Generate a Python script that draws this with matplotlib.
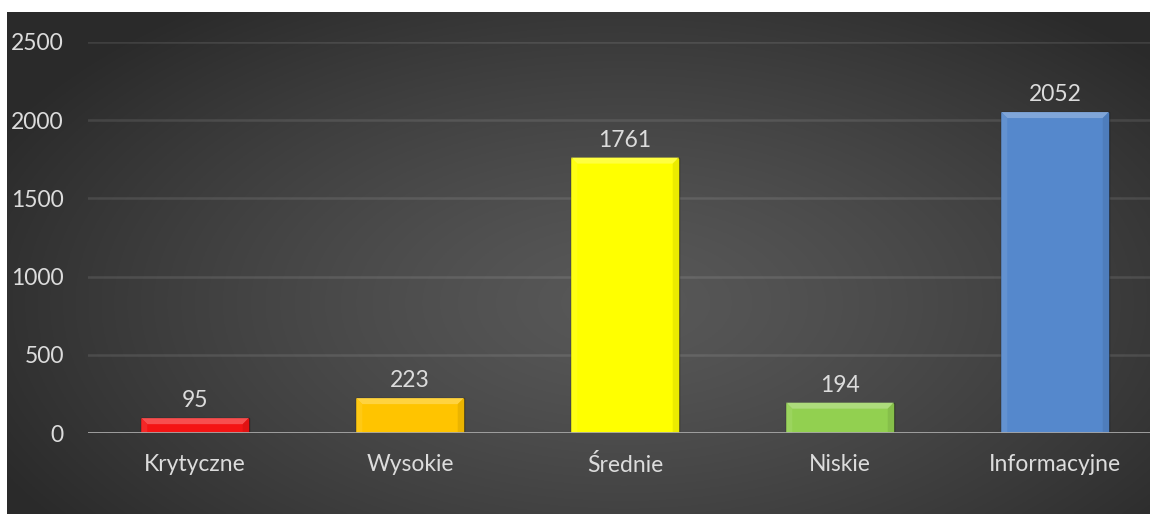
import numpy as np
import matplotlib.pyplot as plt
from matplotlib.colors import to_rgb
from matplotlib.patches import Polygon

categories = ['Krytyczne', 'Wysokie', 'Średnie', 'Niskie', 'Informacyjne']
counts = [95, 223, 1761, 194, 2052]
bar_colors = ['#f41414', '#ffc400', '#ffff00', '#92d050', '#5588cc']

W, H = 1150, 514
fig = plt.figure(figsize=(W / 100, H / 100), dpi=100, facecolor='white')

# dark panel with a soft radial glow in the middle
bg = fig.add_axes([7 / W, 0, 1 - 7 / W, (H - 12) / H])
bg.set_axis_off()
gx, gy = np.meshgrid(np.linspace(0, 1, 600), np.linspace(0, 1, 300))
r = np.sqrt(((gx - 0.54) / 0.62) ** 2 + ((gy - 0.42) / 0.75) ** 2)
shade = 0.345 - 0.18 * np.clip(r, 0, 1) ** 1.3
bg.imshow(np.dstack([shade] * 3), aspect='auto', extent=[0, 1, 0, 1], origin='lower')

ax = fig.add_axes([87.5 / W, 81 / H, 1075 / W, 391 / H])
ax.patch.set_alpha(0)
for s in ax.spines.values():
    s.set_visible(False)

x = np.arange(len(categories))
bars = ax.bar(x, counts, width=0.5, color=bar_colors, edgecolor='#00000066',
              linewidth=1.0, zorder=3)
ax.set_xlim(-0.5, len(categories) - 0.5)
ax.set_ylim(0, 2500)
ax.set_yticks(range(0, 2501, 500))
ax.yaxis.grid(True, color='white', alpha=0.1, linewidth=1.8)
ax.set_axisbelow(True)
ax.axhline(0, color='#a6a6a6', linewidth=2, zorder=4)


def mix(c, t, amt):
    c = np.array(to_rgb(c))
    return tuple(c + (np.array(t) - c) * amt)


# bevelled edges on each bar
bx, by = 6 / 215, 6 * 2500 / 391
for b, col in zip(bars, bar_colors):
    x0, x1, h = b.get_x(), b.get_x() + b.get_width(), b.get_height()
    top = [(x0, h), (x1, h), (x1 - bx, h - by), (x0 + bx, h - by)]
    left = [(x0, 0), (x0, h), (x0 + bx, h - by), (x0 + bx, 0)]
    right = [(x1, 0), (x1, h), (x1 - bx, h - by), (x1 - bx, 0)]
    ax.add_patch(Polygon(top, closed=True, color=mix(col, (1, 1, 1), 0.25), lw=0, zorder=3.5))
    ax.add_patch(Polygon(left, closed=True, color=mix(col, (1, 1, 1), 0.08), lw=0, zorder=3.5))
    ax.add_patch(Polygon(right, closed=True, color=mix(col, (0, 0, 0), 0.08), lw=0, zorder=3.5))
    ax.annotate(str(h), (b.get_x() + b.get_width() / 2, h), xytext=(0, 5),
                textcoords='offset points', ha='center', va='bottom',
                fontsize=16.5, color='#dcdcdc', family='Lato')

ax.set_xticks(x)
ax.set_xticklabels(categories)
ax.tick_params(axis='both', length=0, colors='#dcdcdc', labelsize=16.5)
ax.tick_params(axis='x', pad=15)
ax.tick_params(axis='y', pad=17)
for lbl in ax.get_xticklabels() + ax.get_yticklabels():
    lbl.set_family('Lato')

fig.savefig('out.png', dpi=100)
